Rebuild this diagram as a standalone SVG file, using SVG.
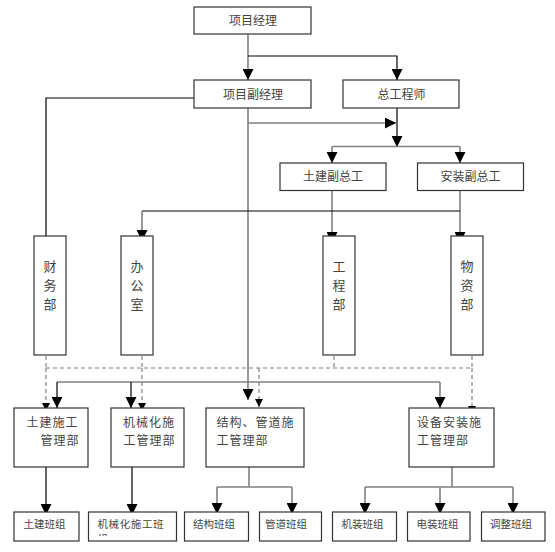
<svg xmlns="http://www.w3.org/2000/svg" width="555" height="552" viewBox="0 0 555 552">
<style>
.box{fill:#fff;stroke:#333;stroke-width:1.2}
.t{font-family:"Noto Sans CJK SC","Liberation Serif",sans-serif;fill:#444}
.t12{font-size:12px;text-anchor:middle}
.t13{font-size:12px;letter-spacing:1px}
.tv{font-size:13px;text-anchor:middle}
.t10{font-size:10.5px}
.k{fill:none;stroke:#000;stroke-width:1.2}
.g{fill:none;stroke:#808080;stroke-width:1.6}
.d{fill:none;stroke:#808080;stroke-width:1.2;stroke-dasharray:4 3}
</style>
<defs>
<marker id="a" markerUnits="userSpaceOnUse" markerWidth="11" markerHeight="11" refX="10" refY="5" orient="auto" viewBox="0 0 10 10"><path d="M0,0 L10,5 L0,10 z" fill="#000"/></marker>
<marker id="s" markerUnits="userSpaceOnUse" markerWidth="8" markerHeight="8" refX="10" refY="5" orient="auto" viewBox="0 0 10 10"><path d="M0,0 L10,5 L0,10 z" fill="#000"/></marker>
<clipPath id="clipJ"><rect x="88" y="511" width="89" height="25"/></clipPath>
</defs>

<g id="connectors">
<path class="g" d="M248,34 V80" marker-end="url(#a)"/>
<path class="k" d="M248,56 H397 V80" marker-end="url(#a)"/>
<path class="k" d="M194,98 H46 V254" marker-end="url(#a)"/>
<path class="g" d="M248,108 V400" marker-end="url(#a)"/>
<path class="g" d="M248,123 H396" marker-end="url(#a)"/>
<path class="k" d="M397,108 V147" marker-end="url(#a)"/>
<path class="g" d="M332,146.5 H460"/>
<path class="g" d="M332,146.5 V163" marker-end="url(#a)"/>
<path class="g" d="M460,146.5 V163" marker-end="url(#a)"/>
<path class="g" d="M332,190 V243" marker-end="url(#a)"/>
<path class="g" d="M460,190 V243" marker-end="url(#a)"/>
<path class="k" d="M460,211 H142"/>
<path class="g" d="M142,211 V241" marker-end="url(#a)"/>
<path class="d" d="M46,342 V368 M142,342 V368 M334,342 V368 M472,342 V368 M46,368 H472"/>
<path class="d" d="M46,368 V411" marker-end="url(#s)"/>
<path class="d" d="M142,368 V411" marker-end="url(#s)"/>
<path class="d" d="M259,368 V407" marker-end="url(#s)"/>
<path class="d" d="M472,368 V414" marker-end="url(#s)"/>
<path class="g" d="M57,382 H440"/>
<path class="k" d="M57,382 V408" marker-end="url(#a)"/>
<path class="k" d="M131,382 V408" marker-end="url(#a)"/>
<path class="g" d="M440,382 V408" marker-end="url(#a)"/>
<path class="k" d="M46,461 V515" marker-end="url(#a)"/>
<path class="k" d="M132,461 V515" marker-end="url(#a)"/>
<path class="g" d="M249,461 V487 M217,487 H292"/>
<path class="g" d="M217,487 V514" marker-end="url(#a)"/>
<path class="g" d="M292,487 V514" marker-end="url(#a)"/>
<path class="g" d="M452,461 V487 M365,487 H513"/>
<path class="g" d="M365,487 V514" marker-end="url(#a)"/>
<path class="g" d="M440,487 V514" marker-end="url(#a)"/>
<path class="g" d="M513,487 V514" marker-end="url(#a)"/>
</g>

<g id="n-xmjl"><rect class="box" x="194" y="7" width="117" height="27"/><text class="t t12" x="253" y="25">项目经理</text></g>
<g id="n-xmfjl"><rect class="box" x="194" y="80" width="117" height="28"/><text class="t t12" x="253" y="98.5">项目副经理</text></g>
<g id="n-zgcs"><rect class="box" x="343" y="80" width="116" height="28"/><text class="t t12" x="401.5" y="98.5">总工程师</text></g>
<g id="n-tjfzg"><rect class="box" x="280" y="163" width="106" height="27.5"/><text class="t t12" x="333" y="180.5">土建副总工</text></g>
<g id="n-azfzg"><rect class="box" x="417.5" y="163" width="106" height="27.5"/><text class="t t12" x="470.5" y="180.5">安装副总工</text></g>

<g id="n-cwb"><rect class="box" x="34" y="236" width="32" height="119"/><text class="t tv"><tspan x="50" y="270.5">财</tspan><tspan x="50" y="289.5">务</tspan><tspan x="50" y="308.5">部</tspan></text></g>
<g id="n-bgs"><rect class="box" x="121" y="236" width="32" height="119"/><text class="t tv"><tspan x="137" y="270.5">办</tspan><tspan x="137" y="289.5">公</tspan><tspan x="137" y="308.5">室</tspan></text></g>
<g id="n-gcb"><rect class="box" x="323" y="236" width="32" height="119"/><text class="t tv"><tspan x="339" y="270.5">工</tspan><tspan x="339" y="289.5">程</tspan><tspan x="339" y="308.5">部</tspan></text></g>
<g id="n-wzb"><rect class="box" x="451" y="236" width="32" height="119"/><text class="t tv"><tspan x="467" y="270.5">物</tspan><tspan x="467" y="289.5">资</tspan><tspan x="467" y="308.5">部</tspan></text></g>

<g id="n-tjsg"><rect class="box" x="14" y="408" width="74" height="59"/><text class="t t13"><tspan x="26.5" y="427">土建施工</tspan><tspan x="40.5" y="445">管理部</tspan></text></g>
<g id="n-jxh"><rect class="box" x="111" y="408" width="73" height="59"/><text class="t t13"><tspan x="123" y="427">机械化施</tspan><tspan x="123.5" y="445">工管理部</tspan></text></g>
<g id="n-jggd"><rect class="box" x="206" y="408" width="98" height="59"/><text class="t t13"><tspan x="216.5" y="427">结构、管道施</tspan><tspan x="216.5" y="445">工管理部</tspan></text></g>
<g id="n-sbaz"><rect class="box" x="409" y="408" width="85" height="59"/><text class="t t13"><tspan x="417" y="427">设备安装施</tspan><tspan x="417" y="445">工管理部</tspan></text></g>

<g id="n-tjbz"><rect class="box" x="14" y="512" width="65" height="29"/><text class="t t10" x="23.5" y="528">土建班组</text></g>
<g id="n-jxbz"><rect class="box" x="88.5" y="512" width="88" height="29"/><text class="t t10" clip-path="url(#clipJ)"><tspan x="97.5" y="528" letter-spacing="0.6">机械化施工班</tspan><tspan x="97.5" y="543">组</tspan></text></g>
<g id="n-jgbz"><rect class="box" x="184.5" y="512" width="64" height="29"/><text class="t t10" x="193" y="528">结构班组</text></g>
<g id="n-gdbz"><rect class="box" x="259.5" y="512" width="62" height="29"/><text class="t t10" x="265" y="528">管道班组</text></g>
<g id="n-jzbz"><rect class="box" x="332.5" y="512" width="64" height="29"/><text class="t t10" x="341.5" y="528">机装班组</text></g>
<g id="n-dzbz"><rect class="box" x="407.5" y="512" width="62.5" height="29"/><text class="t t10" x="416.5" y="528">电装班组</text></g>
<g id="n-tzbz"><rect class="box" x="481.5" y="512" width="63.5" height="29"/><text class="t t10" x="490" y="528">调整班组</text></g>
</svg>
